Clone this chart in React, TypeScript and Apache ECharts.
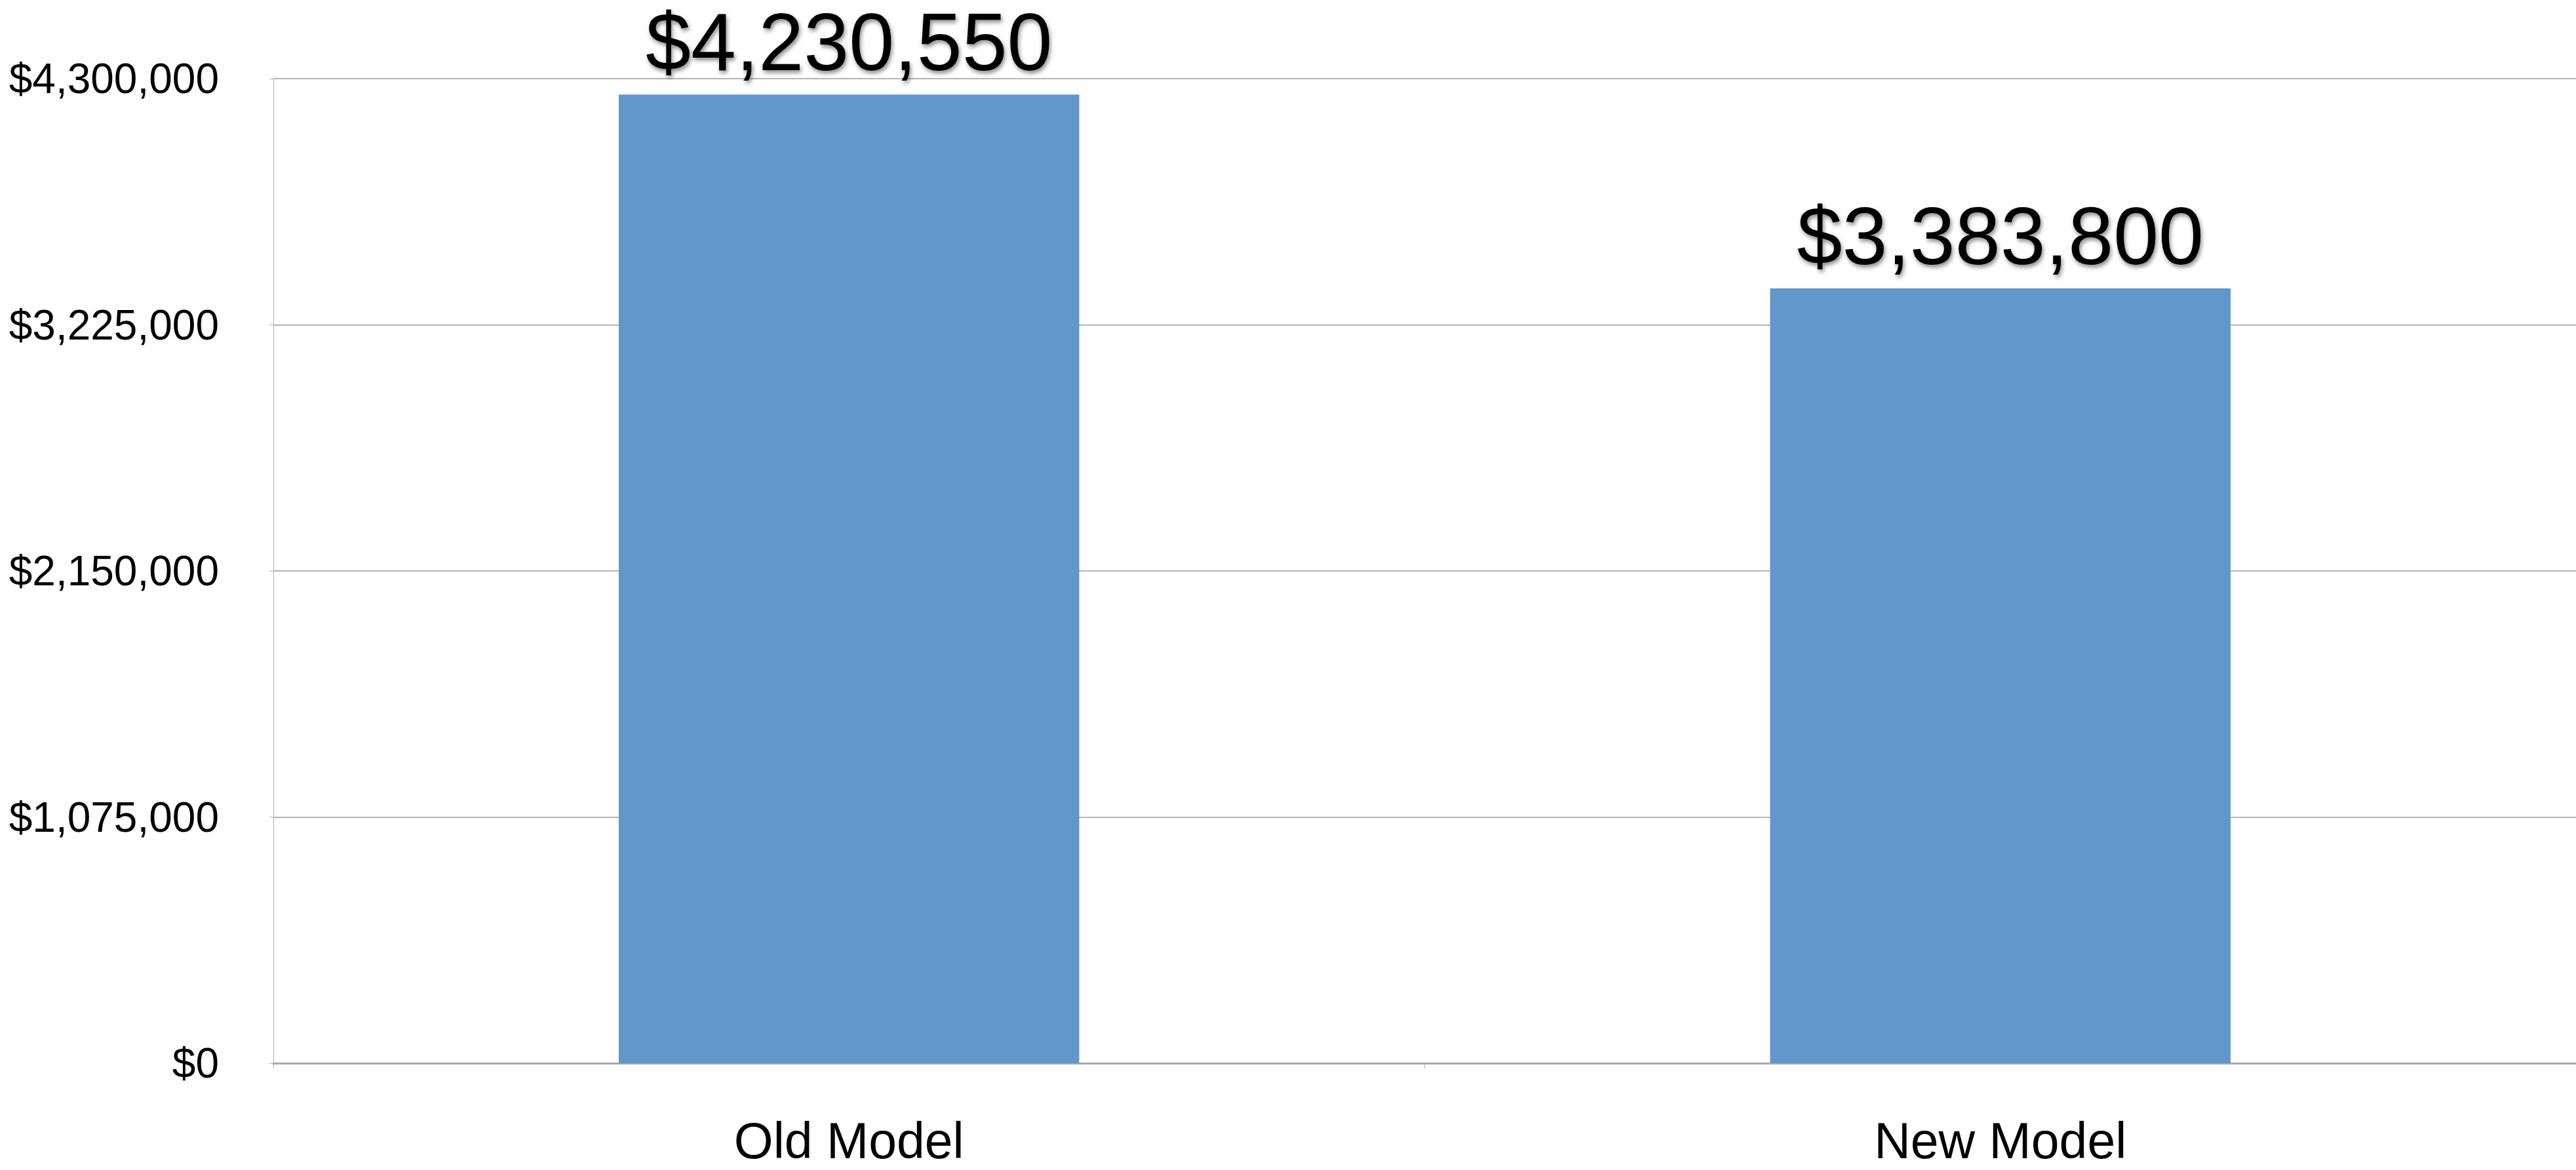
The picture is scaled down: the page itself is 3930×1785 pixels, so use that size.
import React, { useEffect, useRef } from "react";
import * as echarts from "echarts";

const categories = ["Old Model", "New Model"];
const values = [4230550, 3383800];
const yTicks = [0, 1075000, 2150000, 3225000, 4300000];

const fmt = (v: number) => "$" + Math.round(v).toLocaleString("en-US");

export default function App() {
  const ref = useRef<HTMLDivElement>(null);
  useEffect(() => {
    document.body.style.margin = "0";
    const chart = echarts.init(ref.current!, null, { renderer: "svg" });
    chart.setOption({
      animation: false,
      backgroundColor: "#ffffff",
      textStyle: { fontFamily: "Liberation Sans, Arial, sans-serif" },
      grid: { left: 417, top: 120, right: 0, bottom: 163, containLabel: false },
      xAxis: {
        type: "category",
        data: categories,
        boundaryGap: true,
        axisLine: { show: true, lineStyle: { color: "#a8a8a8", width: 3 } },
        axisTick: { show: true, length: 8, lineStyle: { color: "#b0b0b0", width: 1 } },
        axisLabel: {
          color: "#000",
          fontSize: 77,
          lineHeight: 70,
          margin: 83,
          fontFamily: "Liberation Sans, Arial, sans-serif",
        },
      },
      yAxis: {
        type: "value",
        min: yTicks[0],
        max: yTicks[yTicks.length - 1],
        interval: yTicks[1] - yTicks[0],
        axisLine: { show: true, lineStyle: { color: "#b0b0b0", width: 1 } },
        axisTick: { show: true, length: 6, lineStyle: { color: "#b0b0b0", width: 1 } },
        splitLine: { show: true, lineStyle: { color: "#b5b5b5", width: 2 } },
        axisLabel: {
          color: "#000",
          fontSize: 64,
          margin: 83,
          fontFamily: "Liberation Sans, Arial, sans-serif",
          formatter: (v: number) => fmt(v),
        },
      },
      series: [
        {
          type: "bar",
          data: values,
          barWidth: "40%",
          itemStyle: { color: "#6197ca" },
          label: {
            show: true,
            position: "top",
            distance: 30,
            lineHeight: 100,
            color: "#000",
            fontSize: 124,
            fontFamily: "Liberation Sans, Arial, sans-serif",
            formatter: (p: any) => fmt(p.value),
            textShadowColor: "rgba(0,0,0,0.45)",
            textShadowBlur: 6,
            textShadowOffsetX: 2,
            textShadowOffsetY: 4,
          },
        },
      ],
    });
    return () => chart.dispose();
  }, []);
  return <div ref={ref} style={{ width: 3930, height: 1785 }} />;
}
